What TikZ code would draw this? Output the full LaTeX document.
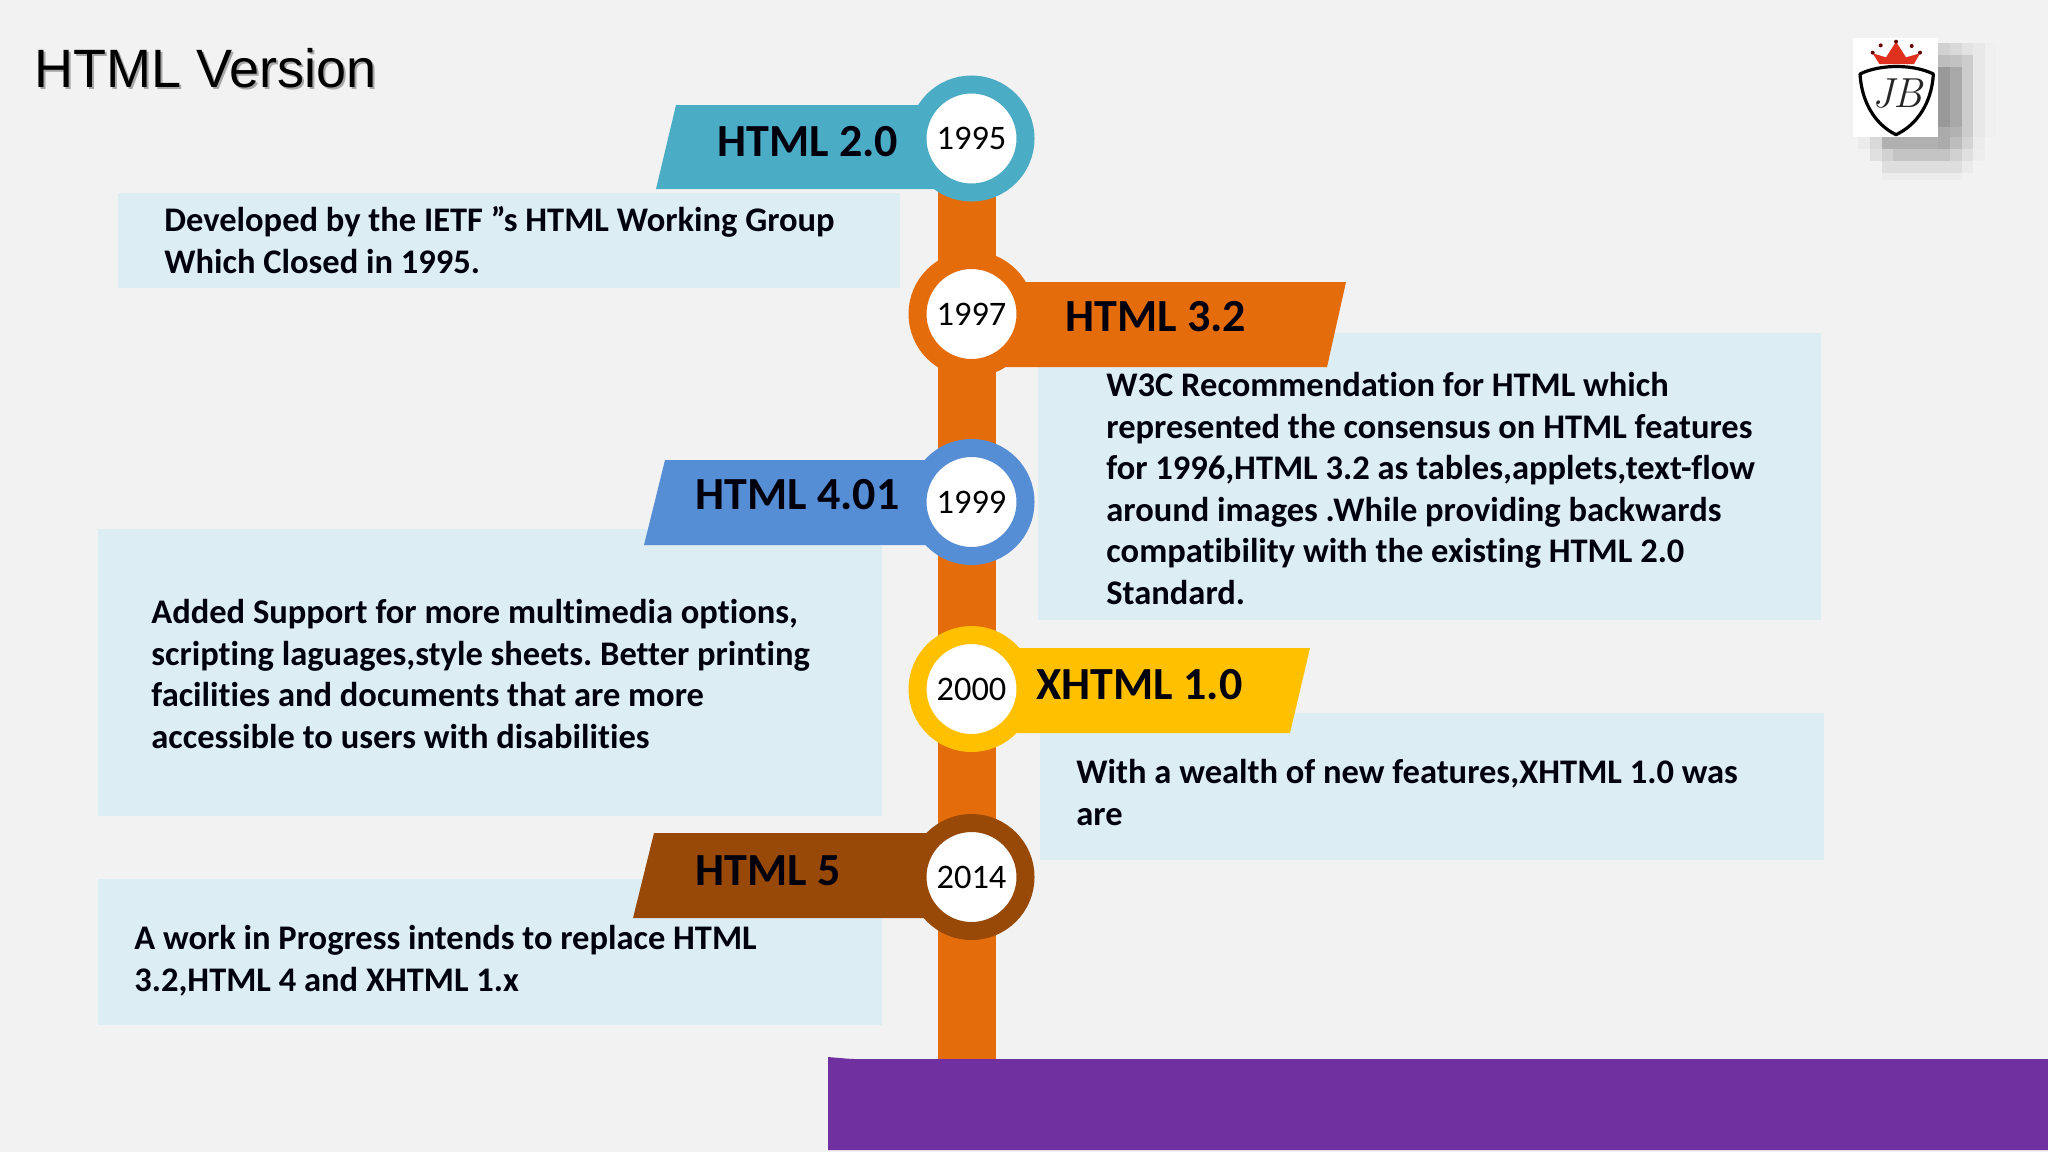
\documentclass[tikz,border=0pt]{standalone}
\usepackage{fontspec}
\setmainfont[Ligatures=NoCommon]{Carlito}
\newfontfamily\titlefont{Liberation Sans}
\newfontfamily\logofont{Latin Modern Roman}
\definecolor{bgc}{HTML}{F2F2F2}
\definecolor{boxc}{HTML}{DCEDF3}
\definecolor{teal1}{HTML}{4BACC6}
\definecolor{orange1}{HTML}{E46C0A}
\definecolor{blue1}{HTML}{558ED5}
\definecolor{gold1}{HTML}{FFC000}
\definecolor{brown1}{HTML}{984807}
\definecolor{purple1}{HTML}{7030A0}
\definecolor{crownred}{HTML}{E0301E}
\newcommand{\shblk}[5]{\fill[black!#5] (#1,#2) rectangle (#3,#4);}
\tikzset{
  ring/.style={circle,draw=#1,line width=9pt,fill=white,minimum size=54pt,inner sep=0pt,
     font=\fontsize{17.2}{20}\selectfont,text=black},
  infobox/.style={fill=boxc,draw=none},
  para/.style={anchor=north west,inner sep=0pt,align=left,text=black!95!blue,
     font=\fontsize{17.25}{20.8}\selectfont\bfseries\frenchspacing},
  bannertext/.style={anchor=base west,inner sep=0pt,text=black!95!blue,
     font=\fontsize{23}{27}\selectfont\bfseries},
}
\begin{document}
\begin{tikzpicture}[x=0.5pt,y=-0.5pt]
\useasboundingbox (0,0) rectangle (2048,1152);
\fill[bgc] (0,0) rectangle (2048,1152);

% title
\node[anchor=base west,inner sep=0pt,text=black!35,font=\fontsize{27}{32}\selectfont\titlefont] (titleshadow) at (36,89) {HTML Version};
\node[anchor=base west,inner sep=0pt,text=black,font=\fontsize{27}{32}\selectfont\titlefont] (title) at (34,87) {HTML Version};

% logo shadow
\shblk{1938}{43}{1950}{55}{18}
\shblk{1950}{43}{1962}{55}{15}
\shblk{1962}{43}{1973}{55}{11}
\shblk{1973}{43}{1985}{137}{9}
\shblk{1985}{43}{1996}{137}{6}
\shblk{1938}{55}{1950}{67}{26}
\shblk{1950}{55}{1962}{67}{24}
\shblk{1962}{55}{1973}{137}{20}
\shblk{1938}{67}{1950}{127}{40}
\shblk{1950}{67}{1962}{127}{34}
\shblk{1938}{127}{1950}{137}{33}
\shblk{1950}{127}{1962}{137}{30}
\shblk{1858}{137}{1870}{149}{8}
\shblk{1870}{137}{1882}{149}{15}
\shblk{1882}{137}{1938}{149}{31}
\shblk{1938}{137}{1950}{149}{33}
\shblk{1950}{137}{1962}{149}{26}
\shblk{1962}{137}{1973}{149}{17}
\shblk{1973}{137}{1985}{149}{8}
\shblk{1870}{149}{1882}{161}{12}
\shblk{1882}{149}{1893}{161}{18}
\shblk{1893}{149}{1950}{161}{23}
\shblk{1950}{149}{1962}{161}{18}
\shblk{1962}{149}{1973}{161}{12}
\shblk{1973}{149}{1985}{161}{7}
\shblk{1882}{161}{1962}{173}{13}
\shblk{1962}{161}{1973}{173}{8}
\shblk{1882}{173}{1962}{180}{7}

% logo
\fill[white] (1853,38) rectangle (1938,137);
\begin{scope}[shift={(1800,0)},x=0.16667pt,y=-0.16667pt]
  \fill[crownred] (238,192) -- (218,160) -- (258,172) -- (288,125) -- (318,172) -- (360,160) -- (342,192) -- cycle;
  \foreach \px/\py in {218/158,242/136,288/125,335/138,360/158}
    \fill[black!60!red] (\px,\py) circle (6);
  \draw[black,line width=1.6pt,line join=round] (180,222) .. controls (240,192) and (340,192) .. (400,222)
     .. controls (395,310) and (350,375) .. (288,404) .. controls (228,375) and (185,310) .. (180,222) -- cycle;
  \node[inner sep=0pt,text=black!85,font=\fontsize{21}{24}\selectfont\logofont\itshape] (logotext) at (292,280) {JB};
\end{scope}

% info boxes
\fill[infobox] (118,193) rectangle (900,288);
\fill[infobox] (1038,333) rectangle (1821,620);
\fill[infobox] (98,529) rectangle (882,816);
\fill[infobox] (1040,713) rectangle (1824,860);
\fill[infobox] (98,879) rectangle (882,1025);

% base and spine
\coordinate (spinetop) at (967,139);
\coordinate (spinebot) at (967,1060);
\draw[orange1,line width=29pt] (spinetop) -- (spinebot);
\fill[purple1] (828,1057) .. controls (840,1058) and (850,1059) .. (855,1059) -- (2048,1059) -- (2048,1150) -- (828,1150) -- cycle;

% banners
\fill[teal1] (676,105) -- (972,105) -- (972,189) -- (656,189) -- cycle;
\fill[orange1] (972,282) -- (1346,282) -- (1327,367) -- (972,367) -- cycle;
\fill[blue1] (665,460) -- (972,460) -- (972,545) -- (644,545) -- cycle;
\fill[gold1] (972,648) -- (1310,648) -- (1290,733) -- (972,733) -- cycle;
\fill[brown1] (654,833) -- (972,833) -- (972,918) -- (633,918) -- cycle;

% year rings
\node[ring=teal1] (y1995) at (971.5,138.5) {1995};
\node[ring=orange1] (y1997) at (971.5,314) {1997};
\node[ring=blue1] (y1999) at (971.5,502) {1999};
\node[ring=gold1] (y2000) at (971.5,689) {2000};
\node[ring=brown1] (y2014) at (971.5,877) {2014};

% banner labels
\node[bannertext] (t20) at (717,156) {HTML 2.0};
\node[bannertext] (t32) at (1065,331) {HTML 3.2};
\node[bannertext] (t401) at (695,509) {HTML 4.01};
\node[bannertext] (tx) at (1036,699) {XHTML 1.0};
\node[bannertext] (t5) at (695,885) {HTML 5};

% paragraphs
\node[para] (p1) at (164,202) {\strut Developed by the IETF ”s HTML Working Group\\Which Closed in 1995.};
\node[para] (p2) at (1106,367) {\strut W3C Recommendation for HTML which\\represented the consensus on HTML features\\for 1996,HTML 3.2 as tables,applets,text-flow\\around images .While providing backwards\\compatibility with the existing HTML 2.0\\Standard.};
\node[para] (p3) at (151,594) {\strut Added Support for more multimedia options,\\scripting laguages,style sheets. Better printing\\facilities and documents that are more\\accessible to users with disabilities};
\node[para] (p4) at (1076,754) {\strut With a wealth of new features,XHTML 1.0 was\\are};
\node[para] (p5) at (134,920) {\strut A work in Progress intends to replace HTML\\3.2,HTML 4 and XHTML 1.x};
\end{tikzpicture}
\end{document}
